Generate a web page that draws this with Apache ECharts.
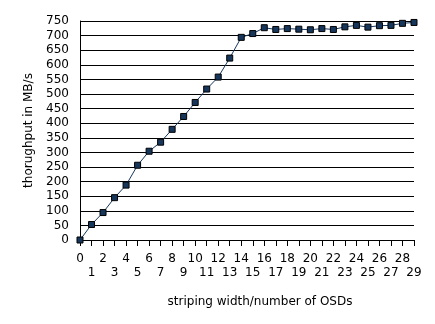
<!DOCTYPE html>
<html><head><meta charset="utf-8">
<script src="https://cdn.jsdelivr.net/npm/echarts@6/dist/echarts.min.js"></script>
<style>html,body{margin:0;padding:0;background:#fff}#c{width:435px;height:324px}</style>
</head><body><div id="c"></div>
<script>
const osds = [0,1,2,3,4,5,6,7,8,9,10,11,12,13,14,15,16,17,18,19,20,21,22,23,24,25,26,27,28,29];
const throughput = [0,53,94,145,188,256,304,335,379,423,471,517,558,623,694,707,727,721,724,722,720,724,721,730,735,729,734,735,742,745];
const yName = 'thorughput in MB/s';
const xName = 'striping width/number of OSDs';

const chart = echarts.init(document.getElementById('c'), null, {renderer:'canvas'});
const font = 'DejaVu Sans';
const labelBase = {fontFamily:font,fontSize:12,color:'#000',showMaxLabel:true,showMinLabel:true,hideOverlap:false};
chart.setOption({
  animation:false,
  grid:{left:80,right:21,top:21,bottom:84},
  xAxis:[{
    type:'value', min:0, max:29, interval:1,
    name:xName, nameLocation:'middle', nameGap:56,
    nameTextStyle:{fontFamily:font,fontSize:12,color:'#000',padding:[0,0,0,26]},
    axisLine:{show:true,lineStyle:{color:'#000',width:1}},
    axisTick:{show:true,length:6,lineStyle:{color:'#000'}},
    axisLabel:Object.assign({margin:13,formatter:v=> (v%2===0 ? String(v) : '')},labelBase),
    splitLine:{show:false}
  },{
    type:'value', min:0, max:29, interval:1, position:'bottom',
    axisLine:{show:false}, axisTick:{show:false},
    axisLabel:Object.assign({margin:27,formatter:v=> (v%2===1 ? String(v) : '')},labelBase),
    splitLine:{show:false}
  }],
  yAxis:{
    type:'value', min:0, max:750, interval:50,
    name:yName, nameLocation:'middle', nameGap:41,
    nameTextStyle:{fontFamily:font,fontSize:12,color:'#000'},
    axisLine:{show:true,lineStyle:{color:'#000',width:1}},
    axisTick:{show:false},
    axisLabel:{fontFamily:font,fontSize:12,color:'#000',margin:11},
    splitLine:{show:true,lineStyle:{color:'#000',width:1}}
  },
  series:[{
    type:'line', xAxisIndex:0,
    data:osds.map((x,i)=>[x,throughput[i]]),
    symbol:'rect', symbolSize:6,
    lineStyle:{color:'#17375e',width:1},
    itemStyle:{color:'#16365c',borderColor:'#000',borderWidth:1}
  }]
});
</script></body></html>
